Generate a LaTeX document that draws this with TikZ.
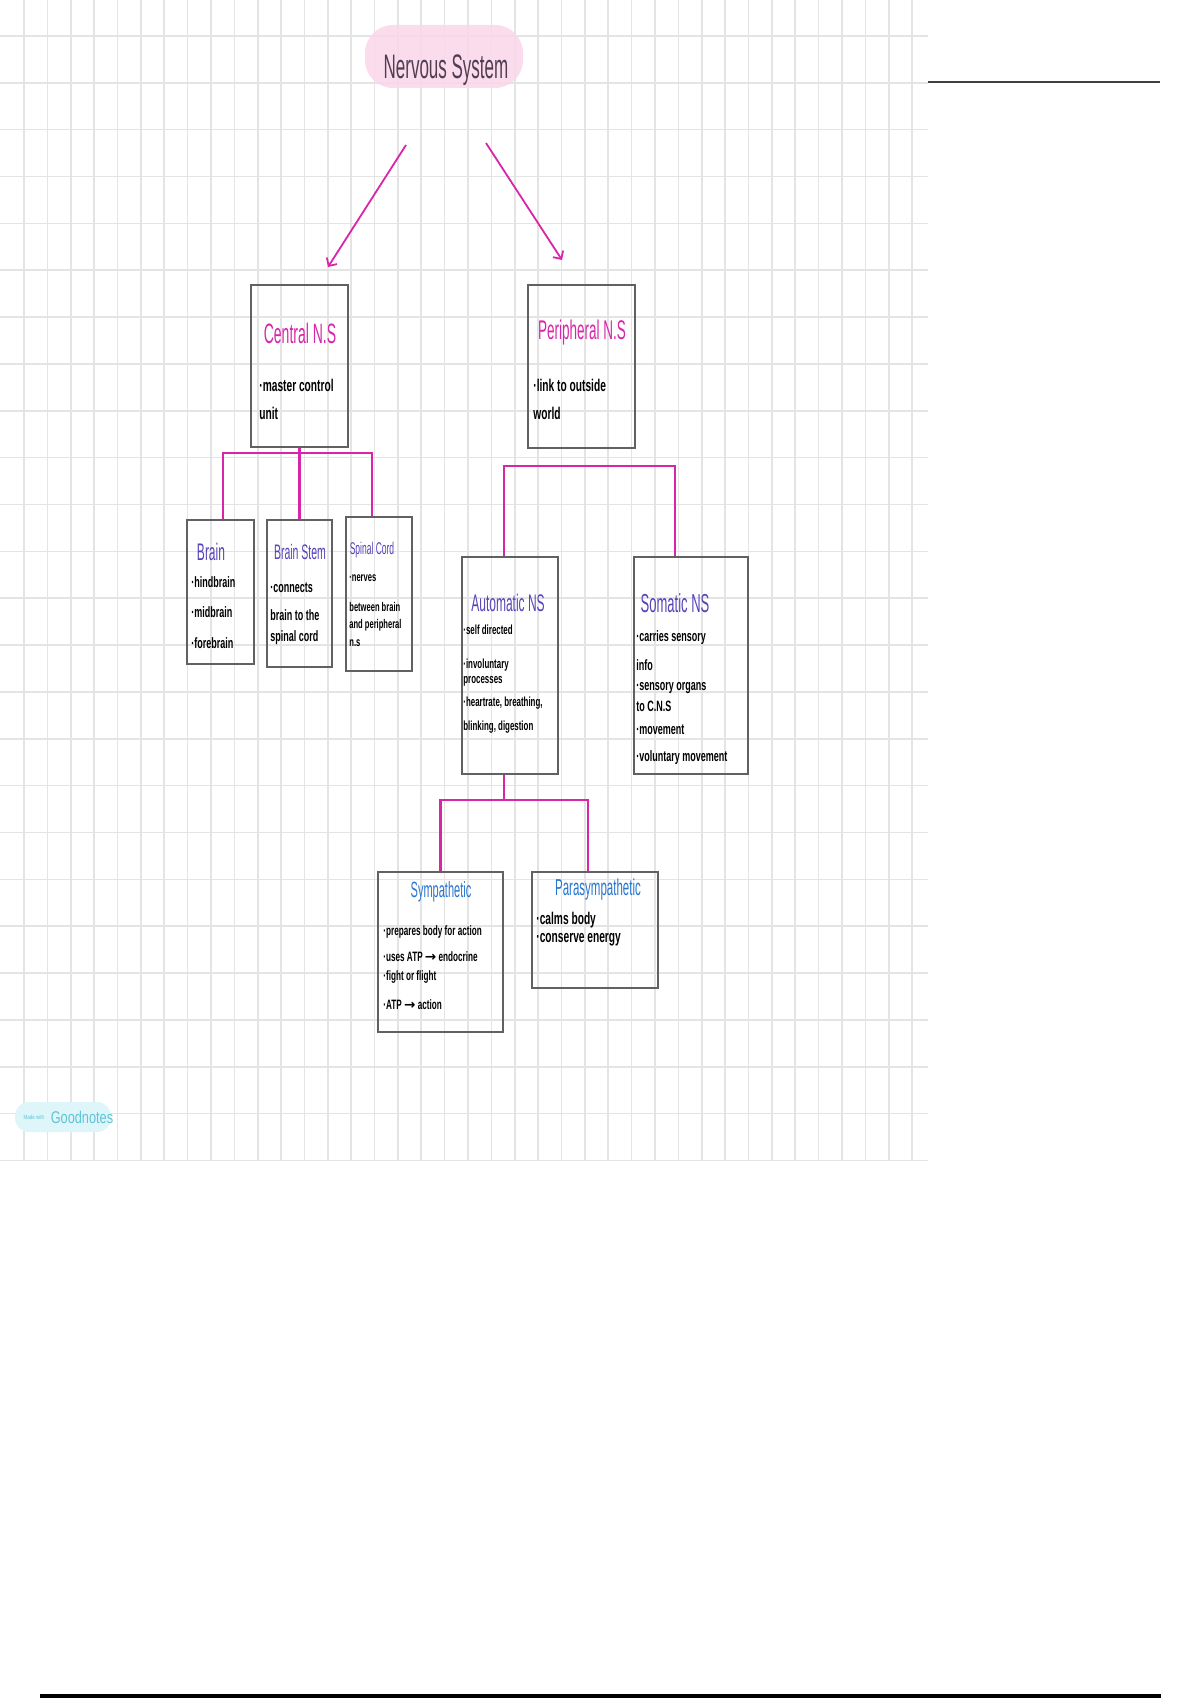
\documentclass[tikz,border=0pt]{standalone}
\usepackage{fontspec}
\newfontfamily\headfont[FakeStretch=0.5]{Liberation Sans}
\newfontfamily\notefont[FakeStretch=0.6]{Liberation Sans}
\newfontfamily\markfont[FakeStretch=0.75]{Liberation Sans}
\newfontfamily\arrowfont{DejaVu Sans}
\usetikzlibrary{arrows.meta, fit}

\definecolor{nsmagenta}{RGB}{216,38,168}
\definecolor{nspurple}{RGB}{88,66,184}
\definecolor{nsblue}{RGB}{38,118,208}
\definecolor{nspink}{RGB}{250,214,234}
\definecolor{nsgrid}{RGB}{228,228,228}
\definecolor{nsink}{RGB}{82,62,84}
\definecolor{gncyan}{RGB}{96,196,214}
\definecolor{gnfill}{RGB}{222,245,250}

\begin{document}
\begin{tikzpicture}[x=0.5pt, y=-0.5pt,
    gridline/.style={nsgrid, line width=0.8pt},
    unitbox/.style={draw=black!62, line width=1.3pt, inner sep=0pt, fit={#1}},
    head/.style={font=\headfont\fontsize{#1}{#1}\selectfont, inner sep=0pt},
    note/.style={font=\notefont\bfseries\fontsize{#1}{#1}\selectfont, anchor=west, inner sep=0pt},
    link/.style={nsmagenta, line width=1.1pt},
    branch/.style={nsmagenta, line width=0.9pt, -{Straight Barb[length=3pt,width=6pt]}}]
    \fill[white] (0,0) rectangle (1200,1700);
    \useasboundingbox (0,0) rectangle (1200,1700);
    \foreach \i in {0,...,38}
        \draw[gridline] ({24+23.37*\i},0) -- ({24+23.37*\i},1160);
    \foreach \j in {0,...,24}
        \draw[gridline] (0,{36+46.85*\j}) -- (928,{36+46.85*\j});

    \node[fill=nspink, fill opacity=0.85, rounded corners=14pt, minimum width=79pt, minimum height=31.5pt] (ns) at (444,56.5) {};
    \node[head=17, text=nsink] (nstitle) at (446,70) {Nervous System};

    \node[unitbox={(251,285) (348,447)}] (cns) {};
    \node[unitbox={(528,285) (635,448)}] (pns) {};
    \node[unitbox={(187,520) (254,664)}] (brain) {};
    \node[unitbox={(267,520) (332,667)}] (stem) {};
    \node[unitbox={(346,517) (412,671)}] (spinal) {};
    \node[unitbox={(462,557) (558,774)}] (auto) {};
    \node[unitbox={(634,557) (748,774)}] (soma) {};
    \node[unitbox={(378,872) (503,1032)}] (symp) {};
    \node[unitbox={(532,872) (658,988)}] (para) {};

    \node[head=14, text=nsmagenta] (cnstitle) at (300,333) {Central N.S};
    \node[head=13.5, text=nsmagenta] (pnstitle) at (582,333) {Peripheral N.S};
    \node[head=12, text=nspurple] (braintitle) at (211,552) {Brain};
    \node[head=10.5, text=nspurple] (stemtitle) at (300,552) {Brain Stem};
    \node[head=8.5, text=nspurple] (spinaltitle) at (372,550) {Spinal Cord};
    \node[head=12, text=nspurple] (autotitle) at (508,603) {Automatic NS};
    \node[head=13, text=nspurple] (somatitle) at (675,603) {Somatic NS};
    \node[head=11, text=nsblue] (symptitle) at (441,892) {Sympathetic};
    \node[head=11.5, text=nsblue] (paratitle) at (598,890) {Parasympathetic};

    \foreach \ty/\txt [count=\i] in {385/{·master control}, 413/{unit}}
        \node[note=8.5] (cnsl\i) at (259,\ty) {\txt};
    \foreach \ty/\txt [count=\i] in {385/{·link to outside}, 413/{world}}
        \node[note=8.5] (pnsl\i) at (533,\ty) {\txt};
    \foreach \ty/\txt [count=\i] in {582/{·hindbrain}, 612/{·midbrain}, 643/{·forebrain}}
        \node[note=7.5] (brainl\i) at (191,\ty) {\txt};
    \foreach \ty/\txt [count=\i] in {588/{·connects}, 615/{brain to the}, 638/{spinal cord}}
        \node[note=7.5] (steml\i) at (270,\ty) {\txt};
    \foreach \ty/\txt [count=\i] in {578/{·nerves}, 607/{between brain}, 625/{and peripheral}, 643/{n.s}}
        \node[note=6.3] (spinall\i) at (349,\ty) {\txt};
    \foreach \ty/\txt [count=\i] in {630/{·self directed}, 665/{·involuntary}, 681/{processes}, 703/{·heartrate, breathing,}, 727/{blinking, digestion}}
        \node[note=6.6] (autol\i) at (463,\ty) {\txt};
    \foreach \ty/\txt [count=\i] in {638/{·carries sensory}, 665/{info}, 688/{·sensory organs}, 706/{to C.N.S}, 730/{·movement}, 758/{·voluntary movement}}
        \node[note=7.5] (somal\i) at (636,\ty) {\txt};
    \foreach \ty/\txt [count=\i] in {932/{·prepares body for action}, 957/{·uses ATP {\arrowfont →} endocrine}, 977/{·fight or flight}, 1005/{·ATP {\arrowfont →} action}}
        \node[note=6.8] (sympl\i) at (383,\ty) {\txt};
    \foreach \ty/\txt [count=\i] in {920/{·calms body}, 940/{·conserve  energy}}
        \node[note=8.5] (paral\i) at (536,\ty) {\txt};

    \coordinate (cnstail) at (406,145);
    \coordinate (cnstip) at (328,267);
    \coordinate (pnstail) at (486,143);
    \coordinate (pnstip) at (562,260);
    \draw[branch] (cnstail) -- (cnstip);
    \draw[branch] (pnstail) -- (pnstip);

    \coordinate (cbus) at (299.5,453);
    \coordinate (pbus) at (590,466);
    \coordinate (abus) at (504,800);
    \draw[link] ([xshift=1.25pt]brain.north) |- (cbus) -| ([xshift=-3.5pt]spinal.north);
    \draw[link] (cns.south) -- (stem.north);
    \draw[link] ([xshift=-3pt]auto.north) |- (pbus) -| ([xshift=-8pt]soma.north);
    \draw[link] ([xshift=-3pt]auto.south) -- (abus);
    \draw[link] (symp.north) |- (abus) -| ([xshift=-3.5pt]para.north);

    \coordinate (rulea) at (928,82);
    \coordinate (ruleb) at (1160,82);
    \draw[black!75, line width=1.2pt] (rulea) -- (ruleb);
    \coordinate (rulec) at (40,1696);
    \coordinate (ruled) at (1161,1696);
    \draw[black, line width=1.6pt] (rulec) -- (ruled);

    \node[fill=gnfill, rounded corners=7pt, minimum width=48pt, minimum height=15pt] (gn) at (63,1117) {};
    \node[font=\markfont\fontsize{3}{3}\selectfont, text=gncyan, inner sep=0pt] (gnmade) at (34,1117) {Made with};
    \node[font=\markfont\fontsize{8.5}{8.5}\selectfont, text=gncyan, inner sep=0pt] (gnname) at (82,1117) {Goodnotes};
\end{tikzpicture}
\end{document}
